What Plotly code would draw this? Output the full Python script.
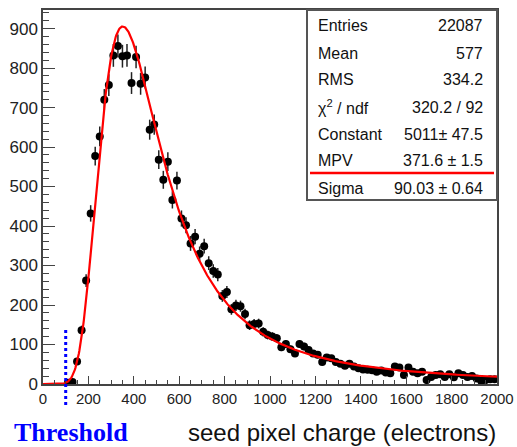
import math
import numpy as np
import plotly.graph_objects as go

# ---------------- data ----------------
bin_centers = [110, 130, 150, 170, 190, 210, 230, 250, 270, 290,
               310, 330, 350, 370, 390, 410, 430, 450, 470, 490,
               510, 530, 550, 570, 590, 610, 630, 650, 670, 690,
               710, 730, 750, 770, 790, 810, 830, 850, 870, 890,
               910, 930, 950, 970, 990, 1010, 1030, 1050, 1070, 1090,
               1110, 1130, 1150, 1170, 1190, 1210, 1230, 1250, 1270, 1290,
               1310, 1330, 1350, 1370, 1390, 1410, 1430, 1450, 1470, 1490,
               1510, 1530, 1550, 1570, 1590, 1610, 1630, 1650, 1670, 1690,
               1710, 1730, 1750, 1770, 1790, 1810, 1830, 1850, 1870, 1890,
               1910, 1930, 1950, 1970, 1990]
counts = [3, 5, 57, 136, 262, 432, 577, 627, 720, 757,
          832, 856, 830, 832, 762, 828, 760, 776, 644, 657,
          568, 517, 563, 466, 515, 419, 402, 356, 373, 330,
          349, 306, 286, 277, 223, 233, 189, 199, 197, 177,
          149, 152, 153, 132, 124, 120, 116, 93, 101, 88,
          77, 101, 95, 86, 77, 74, 56, 67, 65, 56,
          51, 46, 51, 44, 40, 37, 36, 35, 31, 34,
          29, 27, 44, 42, 23, 42, 31, 27, 31, 10,
          18, 23, 25, 18, 25, 17, 27, 23, 18, 20,
          14, 8, 10, 12, 12]

# fit parameters (from the stats box)
FIT_CONSTANT = 5011.0
FIT_MPV = 371.6
FIT_SIGMA = 90.03
THRESHOLD = 100

x_ticks = [0, 200, 400, 600, 800, 1000, 1200, 1400, 1600, 1800, 2000]
y_ticks = [0, 100, 200, 300, 400, 500, 600, 700, 800, 900]

stats_labels = ["Entries", "Mean", "RMS", "χ<sup>2</sup> / ndf", "Constant", "MPV", "Sigma"]
stats_values = ["22087", "577", "334.2", "320.2 / 92", "5011± 47.5", "371.6 ± 1.5", "90.03 ± 0.64"]


# ---------------- Landau (ROOT / CERNLIB denlan) ----------------
def denlan(v):
    p1 = [0.4259894875, -0.1249762550, 0.03984243700, -0.006298287635, 0.001511162253]
    q1 = [1.0, -0.3388260629, 0.09594393323, -0.01608042283, 0.003778942063]
    p2 = [0.1788541609, 0.1173957403, 0.01488850518, -0.001394989411, 0.0001283617211]
    q2 = [1.0, 0.7428795082, 0.3153932961, 0.06694219548, 0.008790609714]
    p3 = [0.1788544503, 0.09359161662, 0.006325387654, 0.00006611667319, -0.000002031049101]
    q3 = [1.0, 0.6097809921, 0.2560616665, 0.04746722384, 0.006957301675]
    p4 = [0.9874054407, 118.6723273, 849.2794360, -743.7792444, 427.0262186]
    q4 = [1.0, 106.8615961, 337.6496214, 2016.712389, 1597.063511]
    p5 = [1.003675074, 167.5702434, 4789.711289, 21217.86767, -22324.94910]
    q5 = [1.0, 156.9424537, 3745.310488, 9834.698876, 66924.28357]
    a1 = [0.04166666667, -0.01996527778, 0.02709538966]

    def poly(c, t):
        return c[0] + (c[1] + (c[2] + (c[3] + c[4] * t) * t) * t) * t

    if v < -5.5:
        u = math.exp(v + 1.0)
        if u < 1e-10:
            return 0.0
        ue = math.exp(-1.0 / u)
        us = math.sqrt(u)
        return 0.3989422803 * (ue / us) * (1 + (a1[0] + (a1[1] + a1[2] * u) * u) * u)
    elif v < -1:
        u = math.exp(-v - 1)
        return math.exp(-u) * math.sqrt(u) * poly(p1, v) / poly(q1, v)
    elif v < 1:
        return poly(p2, v) / poly(q2, v)
    elif v < 5:
        return poly(p3, v) / poly(q3, v)
    elif v < 12:
        u = 1.0 / v
        return u * u * poly(p4, u) / poly(q4, u)
    else:
        u = 1.0 / v
        return u * u * poly(p5, u) / poly(q5, u)


fit_x = np.linspace(0, 2000, 801)
fit_y = [FIT_CONSTANT * denlan((xx - FIT_MPV) / FIT_SIGMA) for xx in fit_x]

errors = [math.sqrt(c) for c in counts]

fig = go.Figure()

fig.add_trace(go.Scatter(
    x=bin_centers, y=counts, mode="markers",
    marker=dict(color="black", size=8, symbol="circle"),
    error_y=dict(type="data", array=errors, color="#222222", thickness=1.5, width=0),
    showlegend=False, hoverinfo="x+y",
))
fig.add_trace(go.Scatter(
    x=fit_x, y=fit_y, mode="lines",
    line=dict(color="#ff0000", width=2.2),
    showlegend=False, hoverinfo="skip",
))

# plot geometry (pixels)
L, R, T, B = 43, 20, 10, 63
W, H = 517, 447
pw = W - L - R
ph = H - T - B


def px(xp):
    return (xp - L) / pw


def py(yp):
    return (H - B - yp) / ph


shapes = []
annotations = []

# threshold dotted line
shapes.append(dict(type="line", xref="x", yref="paper",
                   x0=THRESHOLD, x1=THRESHOLD, y0=py(405), y1=py(329),
                   line=dict(color="#0000ff", width=3, dash="dot"), layer="above"))

# stats box
shapes.append(dict(type="rect", xref="paper", yref="paper",
                   x0=px(307), x1=px(497), y0=py(200), y1=py(10),
                   line=dict(color="#555555", width=2), fillcolor="white", layer="above"))
shapes.append(dict(type="line", xref="paper", yref="paper",
                   x0=px(310), x1=px(494), y0=py(173), y1=py(173),
                   line=dict(color="#ff0000", width=2.5), layer="above"))

row_y = [26, 53, 80, 107, 134, 161, 188]
for lab, val, yy in zip(stats_labels, stats_values, row_y):
    annotations.append(dict(xref="paper", yref="paper", x=px(316), y=py(yy),
                            xanchor="left", yanchor="middle", text=lab, showarrow=False,
                            font=dict(family="Liberation Sans, Arial", size=16, color="#111111")))
    annotations.append(dict(xref="paper", yref="paper", x=px(485), y=py(yy),
                            xanchor="right", yanchor="middle", text=val, showarrow=False,
                            font=dict(family="Liberation Sans, Arial", size=16, color="#111111")))

# x axis title and Threshold label
annotations.append(dict(xref="paper", yref="paper", x=px(498), y=py(432),
                        xanchor="right", yanchor="middle", text="seed pixel charge (electrons)",
                        showarrow=False,
                        font=dict(family="Liberation Sans, Arial", size=24, color="#111111")))
annotations.append(dict(xref="paper", yref="paper", x=px(12), y=py(432),
                        xanchor="left", yanchor="middle", text="<b>Threshold</b>",
                        showarrow=False,
                        font=dict(family="Liberation Serif, Times New Roman", size=26, color="#0000ff")))

fig.update_layout(
    width=W, height=H,
    margin=dict(l=L, r=R, t=T, b=B, autoexpand=False),
    paper_bgcolor="white", plot_bgcolor="white",
    shapes=shapes, annotations=annotations,
    showlegend=False,
)

fig.update_xaxes(
    range=[0, 2000], tickvals=x_ticks, ticktext=[str(v) for v in x_ticks],
    showgrid=False, zeroline=False, automargin=False,
    showline=True, linecolor="#444444", linewidth=1.5, mirror=True,
    ticks="inside", ticklen=8, tickwidth=1.3, tickcolor="#444444",
    minor=dict(dtick=50, tick0=0, ticks="inside", ticklen=4, tickwidth=1.2, tickcolor="#444444", showgrid=False),
    tickfont=dict(family="Liberation Sans, Arial", size=15, color="#222222"),
)
fig.update_yaxes(
    range=[0, 947], tickvals=y_ticks, ticktext=[str(v) for v in y_ticks],
    showgrid=False, zeroline=False, automargin=False,
    showline=True, linecolor="#444444", linewidth=1.5, mirror=True,
    ticks="inside", ticklen=12, tickwidth=1.3, tickcolor="#444444",
    ticklabelstandoff=0,
    minor=dict(dtick=20, tick0=0, ticks="inside", ticklen=6, tickwidth=1.2, tickcolor="#444444", showgrid=False),
    tickfont=dict(family="Liberation Sans, Arial", size=17, color="#222222"),
)

fig.write_html(
    "out.html",
    config={"displayModeBar": False},
    post_script="document.body.style.margin='0';document.body.style.padding='0';document.body.style.overflow='hidden';",
)
